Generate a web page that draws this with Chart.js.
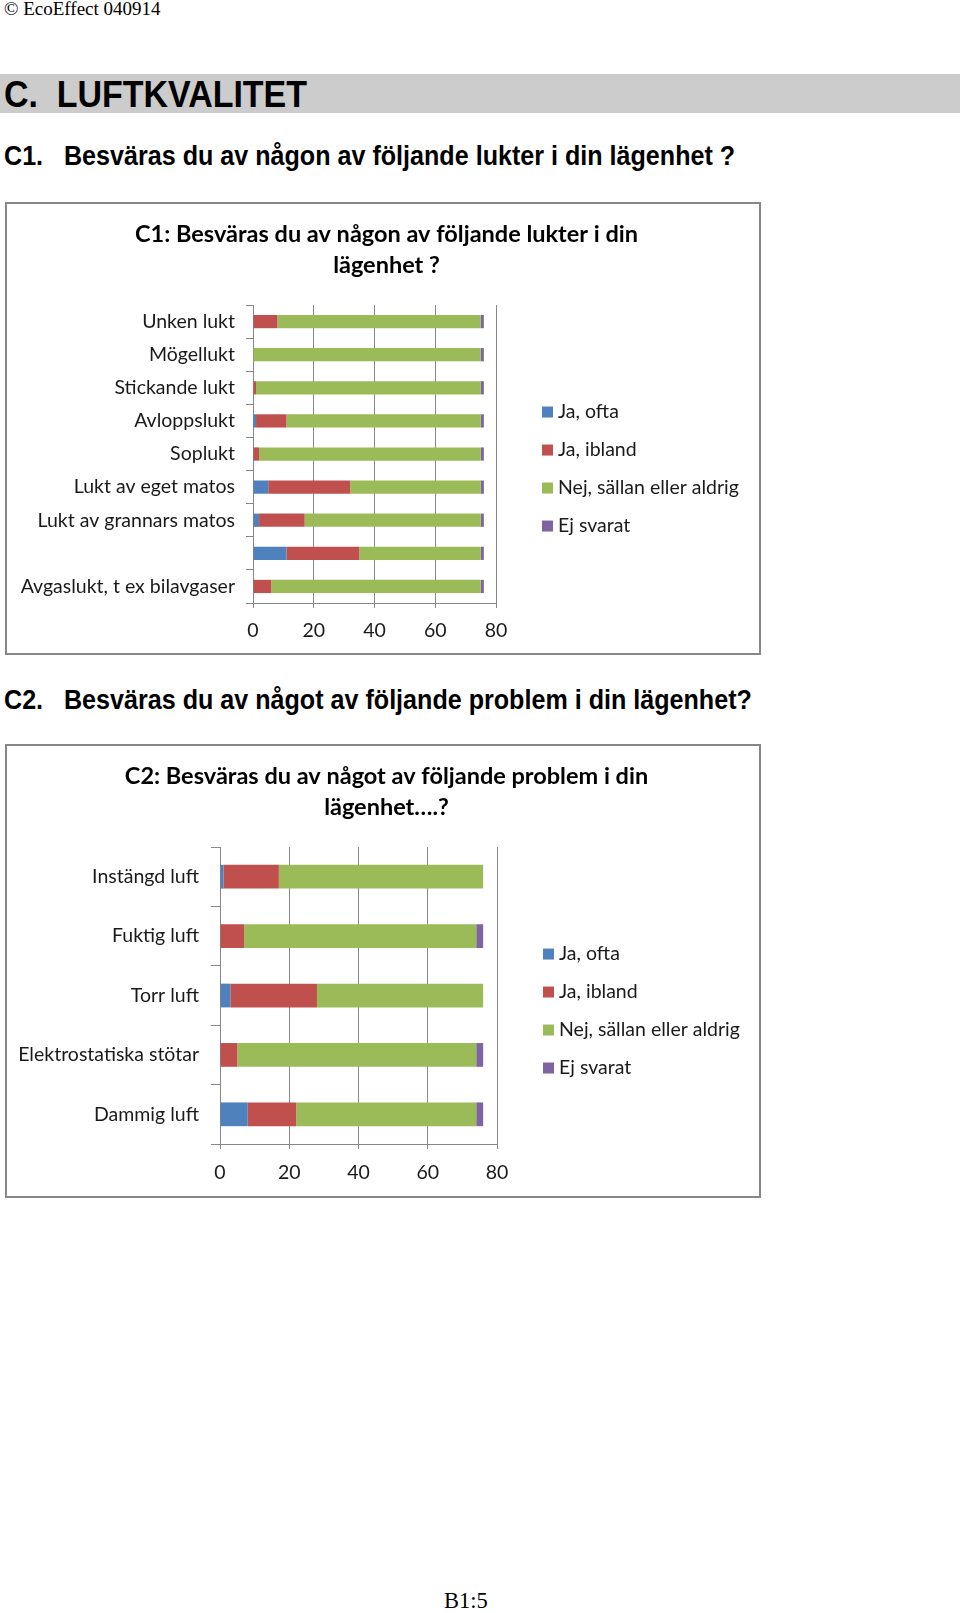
<!DOCTYPE html>
<html>
<head>
<meta charset="utf-8">
<script src="https://cdn.jsdelivr.net/npm/chart.js@4.4.0/dist/chart.umd.min.js"></script>
<style>
  body { margin: 0; width: 960px; height: 1613px; position: relative; background: #fff; overflow: hidden; }
  .abs { position: absolute; white-space: nowrap; color: #000; }
  #stamp { left: 4px; top: -2px; font: 19px "Liberation Serif", serif; }
  #band { left: 0; top: 74px; width: 960px; height: 39px; background: #cccccc; }
  #sec { left: 4px; top: 74px; line-height: 39px; font: bold 36px "Liberation Sans", Arial, sans-serif; transform: scaleX(0.943); transform-origin: left center; }
  .q { left: 4px; font: bold 27px "Liberation Sans", Arial, sans-serif; transform: scaleX(0.93); transform-origin: left center; line-height: 30px; }
  .q span { display: inline-block; width: 64.5px; }
  .box { left: 5px; width: 756px; border: 2px solid #878787; box-sizing: border-box; }
  canvas { position: absolute; }
  #page { left: 444px; top: 1588px; font: 22.5px "Liberation Serif", serif; }
</style>
</head>
<body>
<div class="abs" id="stamp">© EcoEffect 040914</div>
<div class="abs" id="band"></div>
<div class="abs" id="sec">C.&nbsp; LUFTKVALITET</div>

<div class="abs q" style="top:141px"><span>C1.</span>Besväras du av någon av följande lukter i din lägenhet ?</div>
<div class="abs box" style="top:202px;height:453px"></div>
<canvas id="c1" style="left:7px;top:204px" width="752" height="449"></canvas>

<div class="abs q" style="top:685px"><span>C2.</span>Besväras du av något av följande problem i din lägenhet?</div>
<div class="abs box" style="top:744px;height:454px"></div>
<canvas id="c2" style="left:7px;top:746px" width="752" height="450"></canvas>

<div class="abs" id="page">B1:5</div>

<script>
const legendLabels = ["Ja, ofta", "Ja, ibland", "Nej, sällan eller aldrig", "Ej svarat"];
const seriesColors = ["#4F81BD", "#C0504D", "#9BBB59", "#8064A2"];

// C1
const c1Title = ["C1: Besväras du av någon av följande lukter i din", "lägenhet ?"];
const c1Categories = ["Unken lukt", "Mögellukt", "Stickande lukt", "Avloppslukt", "Soplukt",
  "Lukt av eget matos", "Lukt av grannars matos", "", "Avgaslukt, t ex bilavgaser"];
const c1Often = [0, 0, 0, 1, 0, 5, 2, 11, 0];
const c1Sometimes = [8, 0, 1, 10, 2, 27, 15, 24, 6];
const c1Never = [67, 75, 74, 64, 73, 43, 58, 40, 69];
const c1NoAnswer = [1, 1, 1, 1, 1, 1, 1, 1, 1];

// C2
const c2Title = ["C2: Besväras du av något av följande problem i din", "lägenhet….?"];
const c2Categories = ["Instängd luft", "Fuktig luft", "Torr luft", "Elektrostatiska stötar", "Dammig luft"];
const c2Often = [1, 0, 3, 0, 8];
const c2Sometimes = [16, 7, 25, 5, 14];
const c2Never = [59, 67, 48, 69, 52];
const c2NoAnswer = [0, 2, 0, 2, 2];

const xTicks = [0, 20, 40, 60, 80];

const gridGray = "#878787";
const textColor = "#1a1a1a";
const labelFont = { family: "Lato", size: 19.5 };

// legend as its own layout box on the right (keeps the title centred on the whole box)
const sideLegend = {
  id: "sideLegend",
  start(chart, args, opts) {
    const box = {
      position: "right",
      fullSize: false,
      weight: 1000,
      options: {},
      top: 0, left: 0, right: 0, bottom: 0, width: 0, height: 0,
      update(maxWidth, maxHeight) {
        this.width = opts.width;
        this.height = maxHeight;
      },
      isHorizontal() { return false; },
      getPadding() { return { top: 0, left: 0, right: 0, bottom: 0 }; },
      draw() {},
    };
    Chart.layouts.addBox(chart, box);
  },
  afterDraw(chart, args, opts) {
    const { ctx, chartArea } = chart;
    ctx.save();
    ctx.font = labelFont.size + "px " + labelFont.family;
    ctx.textBaseline = "middle";
    ctx.textAlign = "left";
    chart.data.datasets.forEach((ds, i) => {
      const y = chartArea.top + opts.top + i * opts.spacing;
      const x = chartArea.right + opts.left;
      ctx.fillStyle = ds.backgroundColor;
      ctx.fillRect(x, y - 5.5, 11, 11);
      ctx.fillStyle = textColor;
      ctx.fillText(ds.label, x + 16, y);
    });
    ctx.restore();
  },
};

function makeChart(id, title, labels, series, geo) {
  const ctx = document.getElementById(id).getContext("2d");
  return new Chart(ctx, {
    type: "bar",
    data: {
      labels: labels,
      datasets: series.map((data, i) => ({
        label: legendLabels[i],
        data: data,
        backgroundColor: seriesColors[i],
        borderWidth: 0,
        barPercentage: 0.4,
        categoryPercentage: 1,
      })),
    },
    plugins: [sideLegend],
    options: {
      indexAxis: "y",
      responsive: false,
      animation: false,
      layout: { padding: { left: 7, right: 0, top: 0, bottom: 0 } },
      plugins: {
        legend: { display: false },
        tooltip: { enabled: false },
        title: {
          display: true,
          text: title,
          color: "#000",
          font: { family: "Lato", size: 23.5, weight: "bold", lineHeight: 1.32 },
          padding: { top: 14.5, bottom: 24.5 },
        },
        sideLegend: { width: geo.right, left: 46, top: 107, spacing: 38 },
      },
      scales: {
        x: {
          stacked: true,
          min: 0,
          max: 80,
          afterBuildTicks: (scale) => {
            scale.ticks = xTicks.map((v) => ({ value: v }));
          },
          afterFit: (scale) => {
            scale.height = geo.xHeight;
          },
          grid: { color: gridGray, tickLength: 5 },
          border: { color: gridGray },
          ticks: { color: textColor, padding: geo.xPad, font: labelFont },
        },
        y: {
          stacked: true,
          afterFit: (scale) => {
            scale.width = geo.yWidth;
          },
          grid: { offset: true, drawOnChartArea: false, color: gridGray, tickLength: geo.yTick },
          border: { color: gridGray },
          ticks: { autoSkip: false, color: textColor, padding: geo.yPad, font: labelFont },
        },
      },
    },
  });
}

makeChart("c1", c1Title, c1Categories, [c1Often, c1Sometimes, c1Never, c1NoAnswer],
  { right: 263, xHeight: 50, xPad: 11, yWidth: 239, yTick: 7, yPad: 11 });
makeChart("c2", c2Title, c2Categories, [c2Often, c2Sometimes, c2Never, c2NoAnswer],
  { right: 262, xHeight: 52, xPad: 12, yWidth: 206, yTick: 9, yPad: 12 });
</script>
</body>
</html>
